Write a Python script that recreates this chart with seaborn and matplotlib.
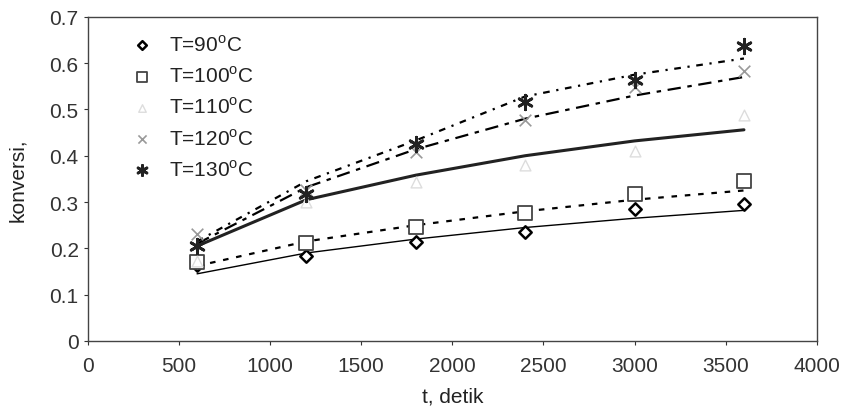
import matplotlib
matplotlib.use('Agg')

import matplotlib.pyplot as plt
import seaborn as sns
import numpy as np
import pandas as pd

# data
t = [600, 1200, 1800, 2400, 3000, 3600]
labels = ["T=90$^\\mathregular{o}$C", "T=100$^\\mathregular{o}$C", "T=110$^\\mathregular{o}$C",
          "T=120$^\\mathregular{o}$C", "T=130$^\\mathregular{o}$C"]

# measured points
x_90 = [0.165, 0.184, 0.214, 0.236, 0.284, 0.295]
x_100 = [0.170, 0.212, 0.246, 0.276, 0.318, 0.345]
x_110 = [0.172, 0.300, 0.343, 0.380, 0.410, 0.488]
x_120 = [0.232, 0.325, 0.409, 0.477, 0.548, 0.584]
x_130 = [0.204, 0.318, 0.425, 0.516, 0.563, 0.637]

# model curves
fit_90 = [0.145, 0.190, 0.220, 0.245, 0.265, 0.282]
fit_100 = [0.162, 0.215, 0.250, 0.280, 0.305, 0.325]
fit_110 = [0.205, 0.305, 0.358, 0.400, 0.432, 0.456]
fit_120 = [0.210, 0.332, 0.414, 0.480, 0.530, 0.570]
fit_130 = [0.215, 0.345, 0.433, 0.528, 0.575, 0.610]

points = [x_90, x_100, x_110, x_120, x_130]
fits = [fit_90, fit_100, fit_110, fit_120, fit_130]

sns.set_style("ticks")
plt.rcParams['font.family'] = ['Liberation Sans', 'DejaVu Sans']
FS = 15

fig = plt.figure(figsize=(8.43, 4.14), dpi=100)
ax = fig.add_axes([0.104, 0.174, 0.865, 0.783])

line_styles = [
    dict(color="black", lw=1.0, ls="-"),
    dict(color="black", lw=1.6, ls=(0, (2.5, 3.5))),
    dict(color="#222222", lw=2.2, ls="-"),
    dict(color="black", lw=1.6, ls=(0, (6, 3, 2, 3))),
    dict(color="black", lw=1.6, ls=(0, (3, 3, 1, 3))),
]
marker_styles = [
    dict(marker="D", s=40, facecolor="white", edgecolor="black", linewidth=1.8),
    dict(marker="s", s=90, facecolor="white", edgecolor="#444444", linewidth=1.3),
    dict(marker="^", s=60, facecolor="white", edgecolor="#dddddd", linewidth=1.0),
    dict(marker="x", s=70, color="#999999", linewidth=1.2),
    dict(marker=(6, 2, 0), s=110, color="#222222", linewidth=2.0),
]

for fit, st in zip(fits, line_styles):
    df = pd.DataFrame({"t": t, "conv": fit})
    sns.lineplot(data=df, x="t", y="conv", ax=ax, **st)

for pts, st, lab in zip(points, marker_styles, labels):
    df = pd.DataFrame({"t": t, "conv": pts})
    sns.scatterplot(data=df, x="t", y="conv", ax=ax, label=lab, zorder=5, **st)

ax.set_xlim(0, 4000)
ax.set_ylim(0, 0.7)
ax.set_xticks(np.arange(0, 4001, 500))
ax.set_yticks(np.arange(0, 0.71, 0.1))
ax.set_yticklabels(["0", "0.1", "0.2", "0.3", "0.4", "0.5", "0.6", "0.7"])
ax.tick_params(labelsize=FS, length=3, width=0.8, colors="#333333")
ax.tick_params(axis="x", pad=8)
ax.set_xlabel("t, detik", fontsize=FS, labelpad=8, color="#222222")
ax.set_ylabel("konversi,", fontsize=FS, labelpad=16, color="#222222")
for sp in ax.spines.values():
    sp.set_visible(True)
    sp.set_color("#444444")
    sp.set_linewidth(1.0)

leg = ax.legend(loc="upper left", frameon=False, fontsize=FS, labelspacing=0.5,
                markerscale=0.7, handletextpad=0.5, handlelength=1.6,
                borderaxespad=0.2, bbox_to_anchor=(0.035, 0.985))
for txt in leg.get_texts():
    txt.set_color("#222222")

fig.savefig("out.png", dpi=100)
plt.close(fig)
